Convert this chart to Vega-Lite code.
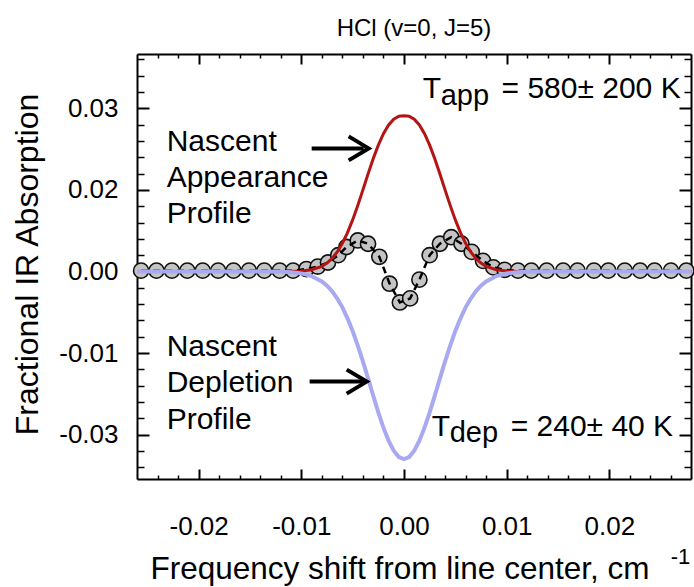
{
  "$schema": "https://vega.github.io/schema/vega-lite/v6.json",
  "width": 554,
  "height": 425,
  "autosize": "none",
  "padding": {"left": 137, "top": 54, "right": 3, "bottom": 108},
  "background": "white",
  "config": {"view": {"stroke": null}, "font": "Liberation Sans", "axis": {"grid": false}},
  "title": {"text": "HCl (v=0, J=5)", "fontSize": 24, "fontWeight": "normal", "font": "Liberation Sans", "color": "black", "offset": 12, "anchor": "middle"},
  "datasets": {
    "circles": [
      {"x": -0.0256, "y": 0.0001}, {"x": -0.0241, "y": 0.0001}, {"x": -0.0226, "y": 0.0001}, {"x": -0.0211, "y": 0.0001},
      {"x": -0.0196, "y": 0.0001}, {"x": -0.0181, "y": 0.0001}, {"x": -0.0166, "y": 0.0001}, {"x": -0.0151, "y": 0.0001},
      {"x": -0.0136, "y": 0.0001}, {"x": -0.0121, "y": 0.0001}, {"x": -0.0108, "y": 0.0001}, {"x": -0.0095, "y": 0.0003},
      {"x": -0.0084, "y": 0.0006}, {"x": -0.0074, "y": 0.0011}, {"x": -0.0064, "y": 0.0020}, {"x": -0.0056, "y": 0.0030},
      {"x": -0.0045, "y": 0.0038}, {"x": -0.0035, "y": 0.0034}, {"x": -0.0024, "y": 0.0018}, {"x": -0.0014, "y": -0.0015},
      {"x": -0.0004, "y": -0.0038}, {"x": 0.0006, "y": -0.0033}, {"x": 0.0015, "y": -0.0010}, {"x": 0.0025, "y": 0.0020},
      {"x": 0.0035, "y": 0.0034}, {"x": 0.0046, "y": 0.0042}, {"x": 0.0056, "y": 0.0034}, {"x": 0.0066, "y": 0.0024},
      {"x": 0.0077, "y": 0.0013}, {"x": 0.0087, "y": 0.0005}, {"x": 0.0098, "y": 0.0002}, {"x": 0.0111, "y": 0.0001},
      {"x": 0.0124, "y": 0.0001}, {"x": 0.0139, "y": 0.0001}, {"x": 0.0155, "y": 0.0001}, {"x": 0.0169, "y": 0.0001},
      {"x": 0.0185, "y": 0.0001}, {"x": 0.0199, "y": 0.0001}, {"x": 0.0215, "y": 0.0001}, {"x": 0.0230, "y": 0.0001},
      {"x": 0.0244, "y": 0.0001}, {"x": 0.0260, "y": 0.0001}, {"x": 0.0275, "y": 0.0001}
    ],
    "red": [
      {"x": -0.026, "y": 0}, {"x": -0.012, "y": 0}, {"x": -0.011, "y": 0.00001}, {"x": -0.010, "y": 0.00006},
      {"x": -0.009, "y": 0.00021}, {"x": -0.008, "y": 0.00063}, {"x": -0.0075, "y": 0.00103}, {"x": -0.007, "y": 0.0016},
      {"x": -0.0065, "y": 0.0024}, {"x": -0.006, "y": 0.00345}, {"x": -0.0055, "y": 0.00476}, {"x": -0.005, "y": 0.00632},
      {"x": -0.0045, "y": 0.0081}, {"x": -0.004, "y": 0.01}, {"x": -0.0035, "y": 0.01194}, {"x": -0.003, "y": 0.01381},
      {"x": -0.0025, "y": 0.01549}, {"x": -0.002, "y": 0.0169}, {"x": -0.0015, "y": 0.01796}, {"x": -0.001, "y": 0.01866},
      {"x": -0.0005, "y": 0.01902}, {"x": 0, "y": 0.0191},
      {"x": 0.0005, "y": 0.01902}, {"x": 0.001, "y": 0.01866}, {"x": 0.0015, "y": 0.01796}, {"x": 0.002, "y": 0.0169},
      {"x": 0.0025, "y": 0.01549}, {"x": 0.003, "y": 0.01381}, {"x": 0.0035, "y": 0.01194}, {"x": 0.004, "y": 0.01},
      {"x": 0.0045, "y": 0.0081}, {"x": 0.005, "y": 0.00632}, {"x": 0.0055, "y": 0.00476}, {"x": 0.006, "y": 0.00345},
      {"x": 0.0065, "y": 0.0024}, {"x": 0.007, "y": 0.0016}, {"x": 0.0075, "y": 0.00103}, {"x": 0.008, "y": 0.00063},
      {"x": 0.009, "y": 0.00021}, {"x": 0.010, "y": 0.00006}, {"x": 0.011, "y": 0.00001}, {"x": 0.012, "y": 0},
      {"x": 0.028, "y": 0}
    ],
    "blue": [
      {"x": -0.026, "y": 0}, {"x": -0.014, "y": 0}, {"x": -0.012, "y": -0.00003}, {"x": -0.011, "y": -0.00009},
      {"x": -0.010, "y": -0.00023}, {"x": -0.009, "y": -0.00056}, {"x": -0.008, "y": -0.00122}, {"x": -0.0075, "y": -0.00174},
      {"x": -0.007, "y": -0.00242}, {"x": -0.0065, "y": -0.00331}, {"x": -0.006, "y": -0.0044}, {"x": -0.0055, "y": -0.00574},
      {"x": -0.005, "y": -0.0073}, {"x": -0.0045, "y": -0.00908}, {"x": -0.004, "y": -0.01103}, {"x": -0.0035, "y": -0.01311},
      {"x": -0.003, "y": -0.01521}, {"x": -0.0025, "y": -0.01726}, {"x": -0.002, "y": -0.01914}, {"x": -0.0015, "y": -0.02074},
      {"x": -0.001, "y": -0.02197}, {"x": -0.0005, "y": -0.02274}, {"x": 0, "y": -0.023},
      {"x": 0.0005, "y": -0.02274}, {"x": 0.001, "y": -0.02197}, {"x": 0.0015, "y": -0.02074}, {"x": 0.002, "y": -0.01914},
      {"x": 0.0025, "y": -0.01726}, {"x": 0.003, "y": -0.01521}, {"x": 0.0035, "y": -0.01311}, {"x": 0.004, "y": -0.01103},
      {"x": 0.0045, "y": -0.00908}, {"x": 0.005, "y": -0.0073}, {"x": 0.0055, "y": -0.00574}, {"x": 0.006, "y": -0.0044},
      {"x": 0.0065, "y": -0.00331}, {"x": 0.007, "y": -0.00242}, {"x": 0.0075, "y": -0.00174}, {"x": 0.008, "y": -0.00122},
      {"x": 0.009, "y": -0.00056}, {"x": 0.010, "y": -0.00023}, {"x": 0.011, "y": -0.00009}, {"x": 0.012, "y": -0.00003},
      {"x": 0.014, "y": 0}, {"x": 0.028, "y": 0}
    ],
    "one": [{}]
  },
  "resolve": {"axis": {"x": "independent", "y": "independent"}},
  "layer": [
    {
      "data": {"name": "circles"},
      "mark": {"type": "point", "filled": true, "fill": "#c4c4c4", "stroke": "#111111", "strokeWidth": 1.6, "size": 230, "opacity": 1, "fillOpacity": 1},
      "encoding": {
        "x": {"field": "x", "type": "quantitative", "scale": {"domain": [-0.026, 0.02795], "nice": false, "zero": false},
          "axis": {"orient": "bottom", "values": [-0.02, -0.01, 0, 0.01, 0.02], "ticks": false, "domain": true, "domainColor": "black", "domainWidth": 2,
            "labelExpr": "datum.value < -0.015 ? '-0.02' : datum.value < -0.005 ? '-0.01' : datum.value < 0.005 ? '0.00' : datum.value < 0.015 ? '0.01' : '0.02'",
            "labelFontSize": 26, "labelColor": "black", "labelFont": "Liberation Sans", "labelPadding": 55, "labelBaseline": "alphabetic", "labelFlush": false, "labelOverlap": false,
            "title": "Frequency shift from line center, cm", "titleFontSize": 31.5, "titleFontWeight": "normal", "titleColor": "black", "titleFont": "Liberation Sans",
            "titleAlign": "left", "titleX": 13, "titleY": 99, "titleBaseline": "alphabetic", "grid": false}},
        "y": {"field": "y", "type": "quantitative", "scale": {"domain": [-0.02544, 0.02666], "nice": false, "zero": false},
          "axis": {"orient": "left", "values": [-0.02, -0.01, 0, 0.01, 0.02], "ticks": false, "domain": true, "domainColor": "black", "domainWidth": 2,
            "labelExpr": "datum.value > 0.015 ? '0.03' : datum.value > 0.005 ? '0.02' : datum.value > -0.005 ? '0.00' : datum.value > -0.015 ? '-0.01' : '-0.03'",
            "labelFontSize": 26, "labelColor": "black", "labelFont": "Liberation Sans", "labelPadding": 19, "labelBaseline": "middle", "labelAlign": "right", "labelFlush": false, "labelOverlap": false,
            "title": "Fractional IR Absorption", "titleFontSize": 32, "titleFontWeight": "normal", "titleColor": "black", "titleFont": "Liberation Sans",
            "titleAngle": 270, "titleAlign": "center", "titleBaseline": "alphabetic", "titleX": -100, "titleY": 210, "grid": false}}
      }
    },
    {
      "data": {"name": "circles"},
      "mark": {"type": "line", "color": "black", "strokeWidth": 2.5, "strokeDash": [7, 5]},
      "encoding": {
        "x": {"field": "x", "type": "quantitative", "scale": {"domain": [-0.026, 0.02795], "nice": false, "zero": false},
          "axis": {"orient": "bottom", "values": [-0.024, -0.022, -0.02, -0.018, -0.016, -0.014, -0.012, -0.01, -0.008, -0.006, -0.004, -0.002, 0, 0.002, 0.004, 0.006, 0.008, 0.01, 0.012, 0.014, 0.016, 0.018, 0.02, 0.022, 0.024, 0.026],
            "labels": false, "domain": false, "ticks": true, "tickColor": "black", "title": null, "grid": false,
            "tickSize": {"condition": {"test": "abs(datum.value*100 - round(datum.value*100)) < 0.01", "value": -10}, "value": -4},
            "tickWidth": {"condition": {"test": "abs(datum.value*100 - round(datum.value*100)) < 0.01", "value": 2}, "value": 1.5}}},
        "y": {"field": "y", "type": "quantitative", "scale": {"domain": [-0.02544, 0.02666], "nice": false, "zero": false},
          "axis": {"orient": "left", "values": [-0.024, -0.022, -0.02, -0.018, -0.016, -0.014, -0.012, -0.01, -0.008, -0.006, -0.004, -0.002, 0, 0.002, 0.004, 0.006, 0.008, 0.01, 0.012, 0.014, 0.016, 0.018, 0.02, 0.022, 0.024, 0.026],
            "labels": false, "domain": false, "ticks": true, "tickColor": "black", "title": null, "grid": false,
            "tickSize": {"condition": {"test": "abs(datum.value*100 - round(datum.value*100)) < 0.01", "value": -12}, "value": -7},
            "tickWidth": {"condition": {"test": "abs(datum.value*100 - round(datum.value*100)) < 0.01", "value": 2}, "value": 1.5}}}
      }
    },
    {
      "data": {"name": "red"},
      "mark": {"type": "line", "color": "#b41414", "strokeWidth": 3},
      "encoding": {
        "x": {"field": "x", "type": "quantitative", "scale": {"domain": [-0.026, 0.02795], "nice": false, "zero": false},
          "axis": {"orient": "top", "values": [-0.024, -0.022, -0.02, -0.018, -0.016, -0.014, -0.012, -0.01, -0.008, -0.006, -0.004, -0.002, 0, 0.002, 0.004, 0.006, 0.008, 0.01, 0.012, 0.014, 0.016, 0.018, 0.02, 0.022, 0.024, 0.026],
            "labels": false, "domain": true, "domainColor": "black", "domainWidth": 2, "ticks": true, "tickColor": "black", "title": null, "grid": false,
            "tickSize": {"condition": {"test": "abs(datum.value*100 - round(datum.value*100)) < 0.01", "value": -10}, "value": -4},
            "tickWidth": {"condition": {"test": "abs(datum.value*100 - round(datum.value*100)) < 0.01", "value": 2}, "value": 1.5}}},
        "y": {"field": "y", "type": "quantitative", "scale": {"domain": [-0.02544, 0.02666], "nice": false, "zero": false},
          "axis": {"orient": "right", "values": [-0.024, -0.022, -0.02, -0.018, -0.016, -0.014, -0.012, -0.01, -0.008, -0.006, -0.004, -0.002, 0, 0.002, 0.004, 0.006, 0.008, 0.01, 0.012, 0.014, 0.016, 0.018, 0.02, 0.022, 0.024, 0.026],
            "labels": false, "domain": true, "domainColor": "black", "domainWidth": 2, "ticks": true, "tickColor": "black", "title": null, "grid": false,
            "tickSize": {"condition": {"test": "abs(datum.value*100 - round(datum.value*100)) < 0.01", "value": -12}, "value": -7},
            "tickWidth": {"condition": {"test": "abs(datum.value*100 - round(datum.value*100)) < 0.01", "value": 2}, "value": 1.5}}}
      }
    },
    {
      "data": {"name": "blue"},
      "mark": {"type": "line", "color": "#a9a9f2", "strokeWidth": 4},
      "encoding": {
        "x": {"field": "x", "type": "quantitative", "scale": {"domain": [-0.026, 0.02795], "nice": false, "zero": false}, "axis": null},
        "y": {"field": "y", "type": "quantitative", "scale": {"domain": [-0.02544, 0.02666], "nice": false, "zero": false}, "axis": null}
      }
    },
    {
      "data": {"name": "one"},
      "mark": {"type": "text", "text": ["Nascent", "Appearance", "Profile"], "align": "left", "baseline": "alphabetic", "fontSize": 30, "lineHeight": 36, "font": "Liberation Sans", "color": "black"},
      "encoding": {"x": {"datum": -0.02311, "type": "quantitative", "axis": null}, "y": {"datum": 0.01472, "type": "quantitative", "axis": null}}
    },
    {
      "data": {"name": "one"},
      "mark": {"type": "text", "text": ["Nascent", "Depletion", "Profile"], "align": "left", "baseline": "alphabetic", "fontSize": 30, "lineHeight": 36.5, "font": "Liberation Sans", "color": "black"},
      "encoding": {"x": {"datum": -0.02311, "type": "quantitative", "axis": null}, "y": {"datum": -0.01031, "type": "quantitative", "axis": null}}
    },
    {
      "data": {"name": "one"},
      "mark": {"type": "text", "text": "T", "align": "left", "baseline": "alphabetic", "fontSize": 30, "font": "Liberation Sans", "color": "black"},
      "encoding": {"x": {"datum": 0.00182, "type": "quantitative", "axis": null}, "y": {"datum": 0.02123, "type": "quantitative", "axis": null}}
    },
    {
      "data": {"name": "one"},
      "mark": {"type": "text", "text": "app", "align": "left", "baseline": "alphabetic", "fontSize": 29, "font": "Liberation Sans", "color": "black"},
      "encoding": {"x": {"datum": 0.00357, "type": "quantitative", "axis": null}, "y": {"datum": 0.02037, "type": "quantitative", "axis": null}}
    },
    {
      "data": {"name": "one"},
      "mark": {"type": "text", "text": "= 580± 200 K", "align": "left", "baseline": "alphabetic", "fontSize": 30, "font": "Liberation Sans", "color": "black"},
      "encoding": {"x": {"datum": 0.0095, "type": "quantitative", "axis": null}, "y": {"datum": 0.02123, "type": "quantitative", "axis": null}}
    },
    {
      "data": {"name": "one"},
      "mark": {"type": "text", "text": "T", "align": "left", "baseline": "alphabetic", "fontSize": 30, "font": "Liberation Sans", "color": "black"},
      "encoding": {"x": {"datum": 0.0027, "type": "quantitative", "axis": null}, "y": {"datum": -0.02012, "type": "quantitative", "axis": null}}
    },
    {
      "data": {"name": "one"},
      "mark": {"type": "text", "text": "dep", "align": "left", "baseline": "alphabetic", "fontSize": 29, "font": "Liberation Sans", "color": "black"},
      "encoding": {"x": {"datum": 0.00445, "type": "quantitative", "axis": null}, "y": {"datum": -0.02086, "type": "quantitative", "axis": null}}
    },
    {
      "data": {"name": "one"},
      "mark": {"type": "text", "text": "= 240± 40 K", "align": "left", "baseline": "alphabetic", "fontSize": 30, "font": "Liberation Sans", "color": "black"},
      "encoding": {"x": {"datum": 0.01039, "type": "quantitative", "axis": null}, "y": {"datum": -0.02012, "type": "quantitative", "axis": null}}
    },
    {
      "data": {"name": "one"},
      "mark": {"type": "text", "text": "-1", "align": "left", "baseline": "alphabetic", "fontSize": 22, "font": "Liberation Sans", "color": "black"},
      "encoding": {"x": {"datum": 0.02597, "type": "quantitative", "axis": null}, "y": {"datum": -0.03583, "type": "quantitative", "axis": null}}
    },
    {
      "data": {"name": "one"},
      "mark": {"type": "rule", "color": "black", "strokeWidth": 4},
      "encoding": {"x": {"datum": -0.00899, "type": "quantitative", "axis": null}, "x2": {"datum": -0.00392}, "y": {"datum": 0.01509, "type": "quantitative", "axis": null}}
    },
    {
      "data": {"name": "one"},
      "mark": {"type": "rule", "color": "black", "strokeWidth": 4},
      "encoding": {"x": {"datum": -0.00919, "type": "quantitative", "axis": null}, "x2": {"datum": -0.00392}, "y": {"datum": -0.0135, "type": "quantitative", "axis": null}}
    },
    {
      "data": {"name": "one"},
      "mark": {"type": "point", "shape": "M-1,-0.6L0,0L-1,0.6", "filled": false, "stroke": "black", "strokeWidth": 4, "size": 1600, "opacity": 1},
      "encoding": {"x": {"datum": -0.00344, "type": "quantitative", "axis": null}, "y": {"datum": 0.01509, "type": "quantitative", "axis": null}}
    },
    {
      "data": {"name": "one"},
      "mark": {"type": "point", "shape": "M-1,-0.6L0,0L-1,0.6", "filled": false, "stroke": "black", "strokeWidth": 4, "size": 1600, "opacity": 1},
      "encoding": {"x": {"datum": -0.00363, "type": "quantitative", "axis": null}, "y": {"datum": -0.0135, "type": "quantitative", "axis": null}}
    }
  ]
}
